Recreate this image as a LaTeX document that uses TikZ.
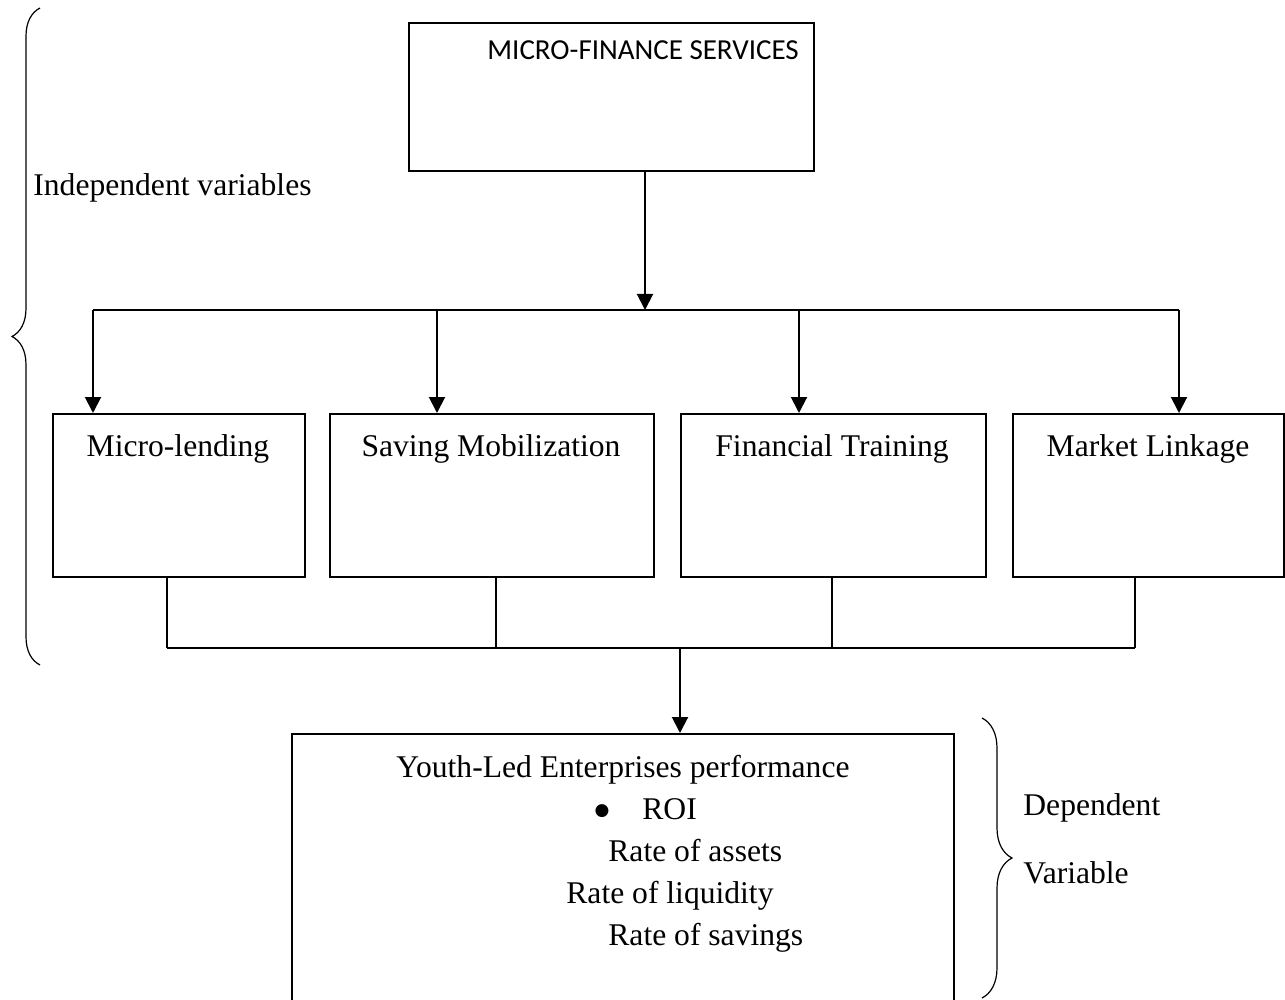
\documentclass[tikz,border=0pt]{standalone}
\usepackage{fontspec}
\setmainfont{Liberation Serif}
\newfontfamily\calfont{Carlito}
\newfontfamily\symfont{DejaVu Sans}
\usetikzlibrary{arrows.meta,decorations.pathreplacing}
\begin{document}
\begin{tikzpicture}[x=0.5pt,y=-0.5pt,
  box/.style={draw,line width=1pt,inner sep=0pt,anchor=north west},
  arr/.style={line width=1pt,-{Triangle[length=8pt,width=8pt]}},
  conn/.style={line width=1pt},
  txt/.style={inner sep=0pt,font=\fontsize{15.8}{19}\selectfont},
  brc/.style={line width=0.6pt,decorate}]
\useasboundingbox (0,0) rectangle (1285,1000);
% boxes
\node[box,minimum width=202.5pt,minimum height=74pt] (top) at (408,22) {};
\node[box,minimum width=126pt,minimum height=81.5pt] (b1) at (52,413) {};
\node[box,minimum width=162pt,minimum height=81.5pt] (b2) at (329,413) {};
\node[box,minimum width=152.5pt,minimum height=81.5pt] (b3) at (680,413) {};
\node[box,minimum width=135.5pt,minimum height=81.5pt] (b4) at (1012,413) {};
\node[box,minimum width=331pt,minimum height=140pt] (res) at (291,733) {};
% texts
\node[txt,font=\calfont\fontsize{14.5}{17}\selectfont,anchor=base west] (ttop) at (487,60) {MICRO-FINANCE SERVICES};
\node[txt,anchor=base] (t1) at (178,456) {Micro-lending};
\node[txt,anchor=base] (t2) at (491,456) {Saving Mobilization};
\node[txt,anchor=base] (t3) at (832,456) {Financial Training};
\node[txt,anchor=base] (t4) at (1148,456) {Market Linkage};
\node[txt,anchor=base west] (indep) at (33,196) {Independent variables};
\node[txt,anchor=base] (tres) at (623,777) {Youth-Led Enterprises performance};
\node[txt,font=\symfont\fontsize{8.5}{9}\selectfont,anchor=center] (bul) at (602,811) {●};
\node[txt,anchor=base west] (roi) at (642,819) {ROI};
\node[txt,anchor=base west] (ra) at (608,861) {Rate of assets};
\node[txt,anchor=base west] (rl) at (566,903) {Rate of liquidity};
\node[txt,anchor=base west] (rs) at (608,945) {Rate of savings};
\node[txt,anchor=base west] (dep) at (1023,815) {Dependent};
\node[txt,anchor=base west] (var) at (1023,883) {Variable};
% top connectors
\coordinate (hm) at (645,310);
\coordinate (h1) at (93,310);
\coordinate (h2) at (437,310);
\coordinate (h3) at (799,310);
\coordinate (h4) at (1179,310);
\draw[arr] (top.south -| hm) -- (hm);
\draw[conn] (h1) -- (h4);
\draw[arr] (h1) -- (h1 |- b1.north);
\draw[arr] (h2) -- (h2 |- b2.north);
\draw[arr] (h3) -- (h3 |- b3.north);
\draw[arr] (h4) -- (h4 |- b4.north);
% bottom connectors
\coordinate (l1) at (167,648);
\coordinate (l2) at (496,648);
\coordinate (l3) at (832,648);
\coordinate (l4) at (1135,648);
\coordinate (lm) at (680,648);
\draw[conn] (l1 |- b1.south) -- (l1);
\draw[conn] (l2 |- b2.south) -- (l2);
\draw[conn] (l3 |- b3.south) -- (l3);
\draw[conn] (l4 |- b4.south) -- (l4);
\draw[conn] (l1) -- (l4);
\draw[arr] (lm) -- (lm |- res.north);
% braces
\coordinate (lbB) at (40,665);
\coordinate (lbT) at (40,8);
\draw[brc,decoration={brace,amplitude=14pt}] (lbB) -- (lbT);
\coordinate (rbT) at (982,718);
\coordinate (rbB) at (982,998);
\draw[brc,decoration={brace,amplitude=15pt}] (rbT) -- (rbB);
\end{tikzpicture}
\end{document}
